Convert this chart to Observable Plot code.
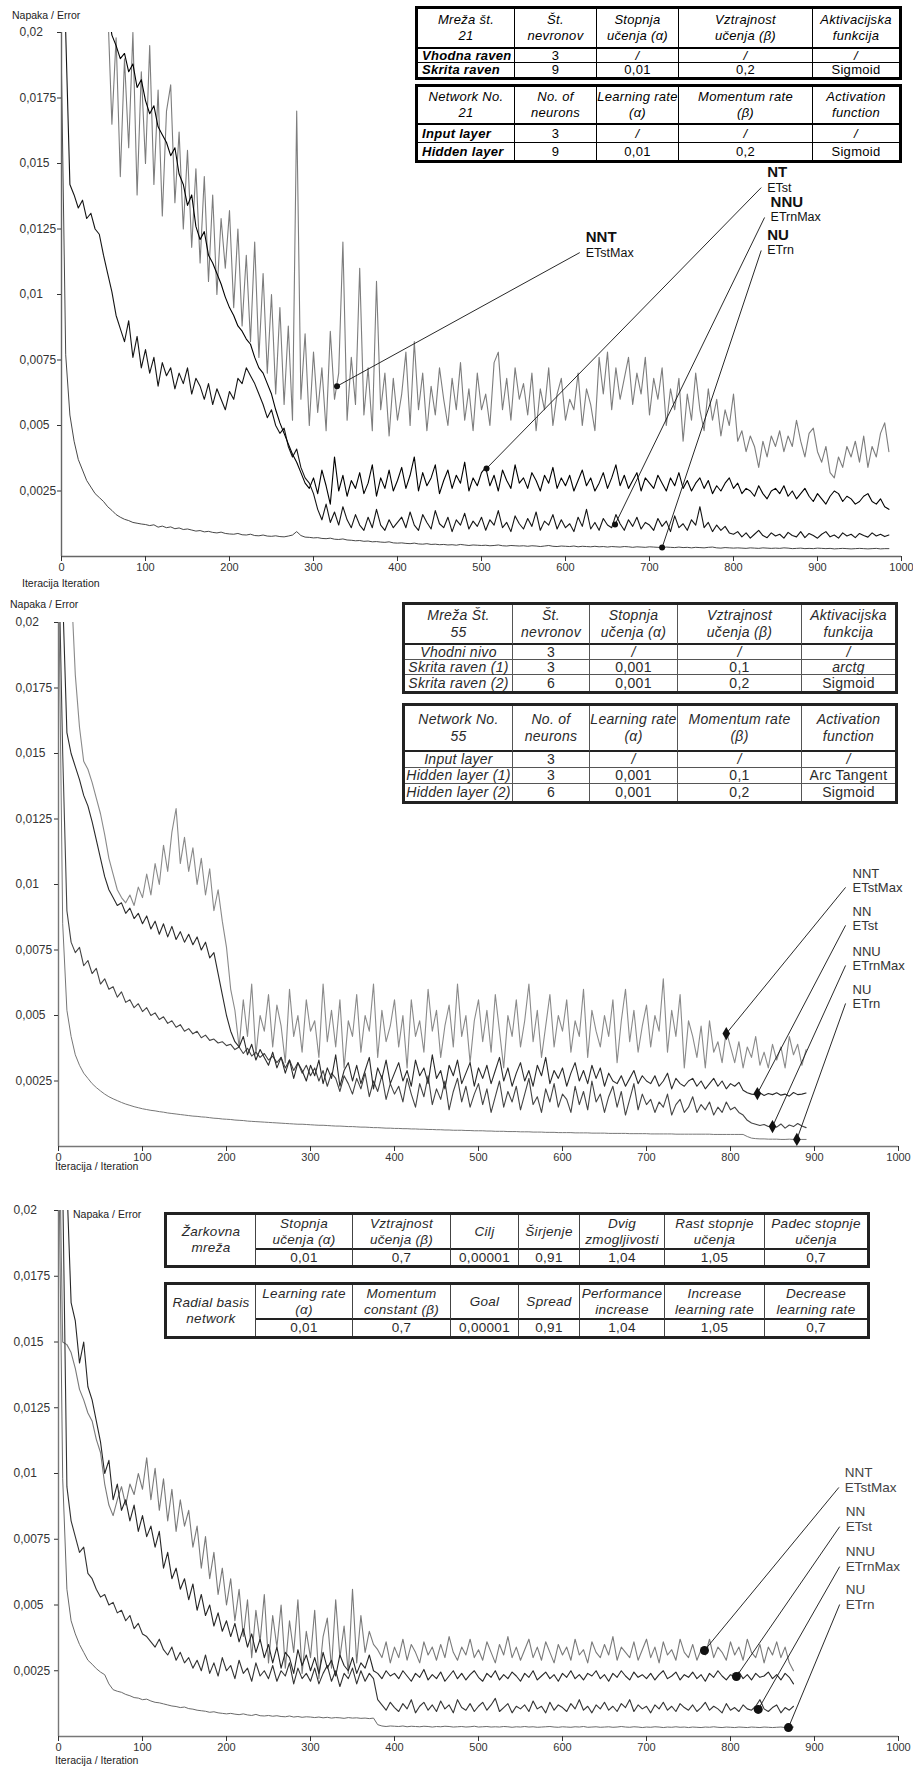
<!DOCTYPE html>
<html><head><meta charset="utf-8">
<script src="https://cdn.jsdelivr.net/npm/d3@7"></script>
<script src="https://cdn.jsdelivr.net/npm/@observablehq/plot@0.6"></script>
<style>
html,body{margin:0;padding:0;background:#fff;}
#root{position:relative;width:913px;height:1767px;overflow:hidden;font-family:'Liberation Sans',Arial,sans-serif;background:#fff;}
.pl{position:absolute;left:0;}
.lbl{position:absolute;white-space:nowrap;color:#222;line-height:1;}
</style></head><body><div id="root"></div>
<script>
// ---- readings: error values in units of 1e-5, one reading every STEP iterations ----
const STEP = 5;
const xTicks = [0,100,200,300,400,500,600,700,800,900,1000];
const yTicks = [0.0025,0.005,0.0075,0.01,0.0125,0.015,0.0175,0.02];

// Panel 1 (network 21)
const p1_NU = [1850,770,540,440,370,330,290,265,240,225,210,190,176,160,150,142,137,130,127,124,122,
118,121,112,116,110,113,106,109,103,105, 101,97,99,94,96,92,90,93,88,86,
85,88,83,82,85,80,79,82,78,77, 79,76,75,78,82,95,80,74,73,71,
72,69,68,70,66,65,67,63,62,60, 61,58,59,56,57,55,54,56,52,51,
52,50,49,51,48,47,49,46,47,45, 46,44,45,43,46,44,42,44,43,42,
43,41,42,44,41,40,42,41,40,41, 39,41,40,38,40,42,39,38,40,39,
38,40,37,39,38,37,39,37,38,36, 38,37,36,38,37,35,37,36,35,37,
36,35,34,36,35,34,36,34,35,33, 35,34,33,35,36,33,32,34,33,32,
33,32,31,33,32,31,33,32,31,32, 31,33,32,30,31,32,30,31,30,32,
31,30,31,29,30,31,30,29,30,31, 30,29,30,31,29,30,30];
const p1_NNU = [2600,2000,1420,1380,1330,1360,1290,1310,1250,1230,1150,1080,1010,920,870,820,900,760,840,720,790,
700,760,650,740,690,720,640,700,660,720, 620,680,650,600,660,580,640,600,560,630,
600,680,660,720,690,660,620,580,530,560, 500,470,490,420,380,410,340,300,280,240,
180,140,200,130,170,120,190,140,110,160, 120,100,150,110,180,120,100,140,110,130,
150,110,170,120,100,160,130,105,175,125, 110,150,95,140,120,165,105,135,115,150,
100,140,120,175,110,130,95,155,125,105, 145,115,170,100,135,120,160,105,140,110,
125,95,150,115,180,105,130,100,145,120, 110,160,125,100,140,115,150,105,130,120,
100,145,115,135,95,155,110,125,100,140, 120,190,110,130,95,120,100,115,90,85,
95,75,90,70,85,100,80,72,90,78, 85,70,92,80,75,95,72,88,80,70,
85,95,75,82,70,90,78,85,72,88, 80,74,90,78,85,76,82];
const p1_NT = [null,null,null,null,null,null,null,null,null,null,null,2100,
1990,1950,1900,1920,1850,1880,1790,1820,1740,
1690,1720,1640,1610,1580,1530,1560,1460,1420,1340, 1380,1260,1210,1240,1150,1120,1080,1040,990,950,
920,880,860,830,810,760,720,700,660,620, 560,510,470,430,390,360,320,280,260,300,
240,330,270,200,380,250,310,230,290,260, 320,240,280,350,230,300,260,330,250,290,
340,260,310,380,250,320,270,300,350,240, 290,330,260,310,280,360,250,300,270,320,
340,270,310,250,330,290,260,350,280,300, 260,320,290,250,310,280,340,260,300,270,
310,250,290,330,270,300,250,280,320,260, 300,350,270,310,260,290,320,250,300,280,
260,310,280,250,300,270,320,260,290,250, 280,300,260,290,240,270,250,280,300,260,
280,240,260,250,230,270,240,220,250,260, 240,270,230,250,220,240,260,230,210,240,
220,200,230,250,240,210,230,220,200,210, 230,240,210,200,220,190,180];
const p1_NNT = [null,null,null,null,null,null,null,null,null,null,null,
2100,1650,1980,1450,1900,1560,2000,1380,1850,1500,
1950,1420,1780,1300,1700,1800,1350,1620,1250,1550, 1180,1480,1120,1450,1050,1380,1000,1290,1100,1320,
950,1250,880,1150,820,1200,760,1080,700,1000, 620,950,580,880,520,1700,600,850,500,780,
550,720,480,860,600,700,1200,520,760,580, 1100,540,720,480,1050,560,700,460,680,520,
620,780,500,820,560,700,480,650,540,720, 600,500,680,560,740,520,640,480,700,560,
620,500,740,780,560,680,520,720,600,660, 540,700,480,640,560,720,500,620,680,520,
600,560,700,500,640,580,480,760,620,780, 560,720,600,680,760,580,700,620,760,540,
680,600,720,500,640,560,680,440,620,520, 700,560,480,640,520,600,460,560,500,620,
440,480,400,460,420,340,440,380,460,420, 480,400,460,420,520,440,380,470,490,400,
360,420,320,300,380,340,420,380,440,360, 460,340,420,380,470,510,400];

// Panel 2 (network 55)
const p2_NU = [2200,850,520,420,350,310,280,260,240,225,212,200,190,182,175,168,162,157,152,148,144,
141,138,136,133,131,128,126,124,122,120, 118,116,115,113,112,110,108,107,105,104,
103,101,100,99,97,96,95,94,93,92, 91,90,89,88,87,86,85,85,84,83,
82,81,81,80,79,78,78,77,76,76, 75,74,74,73,72,72,71,70,70,69,
69,68,68,67,67,66,66,65,65,64, 64,63,63,62,62,62,61,61,60,60,
60,59,59,58,58,58,57,57,57,56, 56,56,55,55,55,54,54,54,53,53,
53,53,52,52,52,52,51,51,51,51, 50,50,50,50,50,49,49,49,49,49,
48,48,48,48,48,48,47,47,47,47, 47,47,47,47,47,46,46,46,46,46,
46,46,46,38,32,30,29,29,28,28, 28,27,27,28,27,27,27,27];
const p2_NNU = [2300,1500,900,780,740,760,690,710,660,680,620,640,600,610,570,590,550,560,530,545,515,
530,500,510,485,495,470,480,455,465,440, 450,430,440,415,425,405,410,395,400,385,
390,370,380,355,375,345,360,340,355,330, 345,320,340,300,330,290,320,280,310,270,
300,250,290,230,280,260,210,270,240,200, 260,220,280,190,250,210,270,180,240,200,
230,170,260,200,150,240,190,270,160,220, 180,250,140,210,260,170,230,150,200,240,
160,220,130,190,250,150,210,170,230,140, 200,260,160,190,130,220,170,240,150,200,
180,130,230,160,210,140,250,170,200,130, 190,230,150,210,120,180,240,140,200,160,
180,130,170,150,200,120,160,180,130,150, 190,130,160,140,170,120,150,130,170,140,
150,130,120,100,90,85,80,84,76,80, 74,86,70,82,76,88,78,72];
const p2_NN = [2400,2100,1580,1500,1450,1400,1340,1300,1240,1170,1100,1030,980,950,920,930,890,910,870,890,850,
880,830,860,810,850,800,840,790,820,780, 810,770,800,750,780,720,740,660,580,500,
440,400,380,420,350,390,330,370,340,310, 360,300,340,280,330,260,320,290,250,310,
270,330,240,300,260,350,230,290,320,250, 310,240,290,340,220,300,260,330,240,280,
320,250,290,230,330,270,300,240,350,260, 290,220,310,270,330,240,280,320,230,300,
260,310,240,290,340,250,300,230,280,320, 250,290,230,310,270,340,240,290,260,300,
230,280,320,250,290,240,310,260,300,230, 280,250,240,270,230,260,290,240,270,250,
240,270,230,250,280,220,260,240,230,250, 260,230,250,220,240,260,230,250,220,240,
230,245,215,205,200,198,205,195,202,198, 205,196,200,192,206,198,200,204];
const p2_NNT = [null,null,2600,2150,1800,1600,1470,1440,1390,1330,1270,1190,1100,1040,980,950,930,960,920,990,950,
1040,960,1080,1000,1150,1050,1200,1290,1080,1180, 1050,1140,1000,1100,960,1060,900,980,860,760,
600,520,380,560,420,620,350,500,440,580, 380,540,460,320,600,420,500,360,560,440,
480,340,620,400,520,380,560,300,480,420, 580,360,500,440,620,340,520,400,460,560,
380,500,300,560,420,480,360,600,440,520, 340,460,540,380,620,420,500,320,480,560,
400,520,360,580,440,300,500,420,560,380, 480,620,400,520,340,460,580,380,500,440,
560,360,480,420,600,340,520,440,380,500, 420,560,320,480,600,400,520,360,460,540,
380,500,440,640,360,520,420,580,300,480, 420,340,460,300,480,360,400,320,440,380,
320,400,300,380,340,420,310,360,300,390, 330,380,300,420,350,390,310,370];

// Panel 3 (radial basis network)
const p3_NU = [2300,980,560,440,390,350,320,290,275,258,245,235,200,178,172,168,160,155,148,146,140,
142,135,130,128,124,120,116,114,110,112, 106,104,100,98,96,92,94,90,88,86,
88,85,83,86,82,80,84,79,78,80, 77,79,76,75,78,74,76,73,75,74,
72,74,71,73,70,72,71,69,72,70, 71,69,70,68,70,45,40,38,40,39,
38,40,37,39,38,37,39,38,36,38, 37,39,38,36,37,38,36,37,39,36,
37,38,36,37,36,38,37,35,37,36, 38,36,37,35,36,37,38,36,35,37,
36,35,37,36,38,35,36,37,35,36, 37,35,36,38,36,35,37,36,34,36,
35,37,36,34,36,35,37,35,36,34, 36,35,34,36,35,37,35,34,36,35,
34,36,35,34,36,35,34,36,35,34, 35,36,34,35,36];
const p3_NNU = [2400,2100,950,820,760,700,720,620,600,560,530,540,500,510,470,480,440,460,410,430,390,
380,360,340,370,330,310,340,290,320,280, 300,260,290,250,310,240,280,230,300,250,
270,220,290,240,260,210,280,230,250,220, 270,210,250,230,280,200,260,220,240,210,
260,200,240,270,210,250,190,240,220,260, 200,250,210,240,220,140,120,100,130,110,
95,125,105,140,90,115,130,100,120,95, 135,105,120,90,140,110,100,125,95,115,
130,100,120,145,95,110,125,90,115,105, 120,95,135,105,115,90,130,100,120,110,
95,125,105,140,100,115,90,120,105,130, 100,115,95,125,110,140,95,120,105,115,
90,120,105,130,100,115,95,125,110,100, 120,95,110,130,100,115,105,90,125,100,
110,95,120,105,100,115,140,105,95,110, 120,90,110,100,115];
const p3_NN = [null,2600,2100,1650,1580,1420,1500,1330,1280,1200,1120,1000,1050,900,960,860,900,820,880,780,840,
760,800,720,780,640,700,600,640,560,600, 520,580,480,540,460,500,420,470,400,440,
380,430,360,410,340,390,320,370,300,350, 280,340,260,320,300,240,330,270,310,250,
300,240,320,260,290,230,310,270,250,300, 240,280,260,310,250,240,220,250,230,240,
220,250,230,210,240,225,255,215,235,220, 245,210,230,250,220,240,215,235,250,225,
210,240,225,250,215,235,220,245,230,210, 240,225,250,215,230,245,220,235,210,240,
225,250,220,235,215,240,230,250,220,235, 210,240,225,250,230,215,245,225,235,220,
240,215,235,250,220,230,245,215,235,225, 245,220,235,210,240,225,250,230,215,235,
228,245,220,235,215,240,225,230,245,220, 235,215,240,225,200];
const p3_NNT = [2500,1500,1490,1460,1400,1320,1280,1230,1200,1130,1080,960,880,840,900,950,880,960,920,1000,940,
1060,900,1020,860,980,820,940,780,900,800, 860,720,800,640,760,600,700,540,640,500,
600,440,560,380,520,300,480,360,540,280, 460,340,500,260,440,320,520,240,400,300,
480,220,380,450,260,520,300,420,240,560, 280,460,320,400,350,330,300,360,280,340,
300,370,290,350,320,280,360,310,340,290, 350,300,380,320,290,340,310,370,300,330,
290,360,320,280,350,310,380,300,340,290, 330,370,300,340,290,360,320,280,350,310,
340,290,370,310,330,280,360,320,300,350, 310,380,290,340,320,300,360,290,330,370,
300,340,280,360,310,330,290,370,320,300, 350,290,330,310,370,300,340,320,290,360,
310,340,290,370,320,300,350,280,340,310, 360,300,340,280,250];

// annotation readings (iteration, error) : marked point and leader-line end
const p1Notes = [
  {name:"NNT", sub:"ETstMax", ax:328, ay:0.0065,  lx:617, ly:0.0116},
  {name:"NT",  sub:"ETst",    ax:506, ay:0.00336, lx:833, ly:0.01408},
  {name:"NNU", sub:"ETrnMax", ax:659, ay:0.00122, lx:837, ly:0.01294},
  {name:"NU",  sub:"ETrn",    ax:715, ay:0.00034, lx:833, ly:0.01168}];
const p2Notes = [
  {name:"NNT", sub:"ETstMax", ax:795, ay:0.00431, lx:937, ly:0.00989},
  {name:"NN",  sub:"ETst",    ax:832, ay:0.00202, lx:937, ly:0.00844},
  {name:"NNU", sub:"ETrnMax", ax:850, ay:0.00076, lx:937, ly:0.00691},
  {name:"NU",  sub:"ETrn",    ax:879, ay:0.00027, lx:937, ly:0.00546}];
const p3Notes = [
  {name:"NNT", sub:"ETstMax", ax:769, ay:0.00327, lx:929, ly:0.00947},
  {name:"NN",  sub:"ETst",    ax:807, ay:0.00228, lx:930, ly:0.00798},
  {name:"NNU", sub:"ETrnMax", ax:833, ay:0.00103, lx:930, ly:0.00646},
  {name:"NU",  sub:"ETrn",    ax:869, ay:0.00034, lx:930, ly:0.00502}];

// table texts
const t1aHead = ["Mreža št.\n21","Št.\nnevronov","Stopnja\nučenja (α)","Vztrajnost\nučenja (β)","Aktivacijska\nfunkcija"];
const t1aRows = [["Vhodna raven","3","/","/","/"],["Skrita raven","9","0,01","0,2","Sigmoid"]];
const t1bHead = ["Network No.\n21","No. of\nneurons","Learning rate\n(α)","Momentum rate\n(β)","Activation\nfunction"];
const t1bRows = [["Input layer","3","/","/","/"],["Hidden layer","9","0,01","0,2","Sigmoid"]];
const t2aHead = ["Mreža Št.\n55","Št.\nnevronov","Stopnja\nučenja (α)","Vztrajnost\nučenja (β)","Aktivacijska\nfunkcija"];
const t2aRows = [["Vhodni nivo","3","/","/","/"],["Skrita raven (1)","3","0,001","0,1","arctg"],["Skrita raven (2)","6","0,001","0,2","Sigmoid"]];
const t2bHead = ["Network No.\n55","No. of\nneurons","Learning rate\n(α)","Momentum rate\n(β)","Activation\nfunction"];
const t2bRows = [["Input layer","3","/","/","/"],["Hidden layer (1)","3","0,001","0,1","Arc Tangent"],["Hidden layer (2)","6","0,001","0,2","Sigmoid"]];
const t3aName = "Žarkovna\nmreža";
const t3aHead = ["Stopnja\nučenja (α)","Vztrajnost\nučenja (β)","Cilj","Širjenje","Dvig\nzmogljivosti","Rast stopnje\nučenja","Padec stopnje\nučenja"];
const t3bName = "Radial basis\nnetwork";
const t3bHead = ["Learning rate\n(α)","Momentum\nconstant (β)","Goal","Spread","Performance\nincrease","Increase\nlearning rate","Decrease\nlearning rate"];
const t3Values = ["0,01","0,7","0,00001","0,91","1,04","1,05","0,7"];

// ---------------- drawing ----------------
const root = document.getElementById("root");
const fmtY = d => String(d).replace(".", ",");

function drawPanel(c) {
  const marks = [];
  for (const s of c.series) {
    const rows = s.values.map((v, i) => ({x: i * STEP, y: v == null ? NaN : v / 1e5}));
    marks.push(Plot.line(rows, {x: "x", y: "y", stroke: s.color, strokeWidth: s.width, clip: true}));
  }
  marks.push(Plot.ruleX([0], {stroke: c.axisColor, strokeWidth: 1.4}));
  marks.push(Plot.ruleY([0], {stroke: c.axisColor, strokeWidth: 1.4}));
  marks.push(Plot.axisX({ticks: xTicks, tickSize: 5, tickPadding: 2, label: null, fontSize: 11, color: "#333", tickFormat: d => String(d)}));
  // tick marks only
  marks.push(Plot.axisY({ticks: yTicks, tickSize: 4, label: null, color: "#333", tickFormat: () => ""}));
  // left-aligned tick labels
  marks.push(Plot.axisY({ticks: yTicks, tickSize: 0, tickPadding: 0, label: null, fontSize: 12, color: "#333",
    tickFormat: fmtY, textAnchor: "start", dx: c.yDx}));
  marks.push(Plot.link(c.notes, {x1: "ax", y1: "ay", x2: "lx", y2: "ly", stroke: "#111", strokeWidth: 0.9}));
  marks.push(Plot.dot(c.notes, {x: "ax", y: "ay", r: c.r, symbol: c.symbol, fill: "#111", stroke: "none"}));
  marks.push(Plot.text(c.notes, {x: "lx", y: "ly", text: "name", textAnchor: "start", dx: c.ndx, dy: c.ndy,
    fontSize: c.nameSize, fontWeight: c.nameWeight, fill: c.noteColor}));
  marks.push(Plot.text(c.notes, {x: "lx", y: "ly", text: "sub", textAnchor: "start", dx: c.ndx, dy: 0,
    fontSize: c.subSize, fill: c.noteColor}));
  const svg = Plot.plot({
    width: 913, height: c.height,
    marginLeft: c.ml, marginRight: c.mr, marginTop: c.mt, marginBottom: c.mb,
    x: {domain: [0, 1000]}, y: {domain: [0, 0.02]},
    style: {fontFamily: "'Liberation Sans', Arial, sans-serif", background: "transparent", overflow: "visible"},
    marks
  });
  const holder = document.createElement("div");
  holder.className = "pl";
  holder.style.top = c.top + "px";
  holder.appendChild(svg);
  root.appendChild(holder);
}

function label(text, left, cy, size, color) {
  const d = document.createElement("div");
  d.className = "lbl";
  d.textContent = text;
  d.style.left = left + "px";
  d.style.top = (cy - size / 2) + "px";
  d.style.fontSize = size + "px";
  if (color) d.style.color = color;
  root.appendChild(d);
}

function drawTable(t) {
  const W = t.cols.reduce((a, b) => a + b, 0), H = t.rows.reduce((a, b) => a + b, 0);
  const box = document.createElement("div");
  Object.assign(box.style, {position: "absolute", left: t.left + "px", top: t.top + "px",
    width: (W + 2 * t.outer) + "px", height: (H + 2 * t.outer) + "px", boxSizing: "border-box",
    border: t.outer + "px solid " + t.outerColor, background: "#fff", zIndex: 5});
  const cx = [0]; t.cols.forEach(w => cx.push(cx[cx.length - 1] + w));
  const ry = [0]; t.rows.forEach(h => ry.push(ry[ry.length - 1] + h));
  for (const cell of t.cells) {
    const rs = cell.rs || 1, cs = cell.cs || 1;
    const d = document.createElement("div");
    const bottomW = (cell.r + rs < t.rows.length) ? (cell.r + rs === 1 ? t.headLine : t.inner) : 0;
    const rightW = (cell.c + cs < t.cols.length) ? t.inner : 0;
    Object.assign(d.style, {position: "absolute", left: cx[cell.c] + "px", top: ry[cell.r] + "px",
      width: (cx[cell.c + cs] - cx[cell.c]) + "px", height: (ry[cell.r + rs] - ry[cell.r]) + "px",
      boxSizing: "border-box", borderRight: rightW + "px solid " + t.lineColor,
      borderBottom: bottomW + "px solid " + (cell.r + rs === 1 ? t.outerColor : t.lineColor),
      display: "flex", alignItems: "center", justifyContent: cell.align === "left" ? "flex-start" : "center",
      paddingLeft: cell.align === "left" ? "4px" : "0", textAlign: cell.align === "left" ? "left" : "center",
      whiteSpace: "pre", fontSize: t.fontSize + "px", lineHeight: t.lineHeight + "px", color: t.color,
      fontStyle: cell.italic ? "italic" : "normal", fontWeight: cell.bold ? "bold" : "normal",
      letterSpacing: "0.3px", overflow: "visible"});
    d.textContent = cell.text;
    box.appendChild(d);
  }
  root.appendChild(box);
}

function gridCells(head, rows, firstBold, firstAlign) {
  const cells = head.map((text, c) => ({r: 0, c, text, italic: true}));
  rows.forEach((row, i) => row.forEach((text, c) => cells.push({r: i + 1, c, text,
    italic: c === 0 || text === "/" || text === "arctg", bold: c === 0 && firstBold,
    align: c === 0 ? firstAlign : "center"})));
  return cells;
}
function rbfCells(name, head, values) {
  const cells = [{r: 0, c: 0, rs: 2, text: name, italic: true}];
  head.forEach((text, i) => cells.push({r: 0, c: i + 1, text, italic: true}));
  values.forEach((text, i) => cells.push({r: 1, c: i + 1, text}));
  return cells;
}

// Panel 1
drawPanel({top: 0, height: 595, ml: 61, mr: 12, mt: 32, mb: 39, yDx: -42, axisColor: "#666",
  series: [
    {values: p1_NNT, color: "#7d7d7d", width: 1.1},
    {values: p1_NU, color: "#333", width: 0.9},
    {values: p1_NNU, color: "#151515", width: 1.1},
    {values: p1_NT, color: "#000", width: 1.1}],
  notes: p1Notes, r: 3, symbol: "circle", ndx: 6, ndy: -15, nameSize: 15, nameWeight: "bold", subSize: 12.5, noteColor: "#111"});
label("Napaka / Error", 12, 15, 10.5);
label("Iteracija Iteration", 22, 583, 10.5);
const t1Base = {left: 415, cols: [97,82,82,134,86], outer: 3, inner: 1, headLine: 2, outerColor: "#000", lineColor: "#000",
  fontSize: 13, lineHeight: 16, color: "#000"};
drawTable({...t1Base, top: 6, rows: [40,14,14], cells: gridCells(t1aHead, t1aRows, true, "left")});
drawTable({...t1Base, top: 84, rows: [38,18,17], cells: gridCells(t1bHead, t1bRows, true, "left")});

// Panel 2
drawPanel({top: 595, height: 585, ml: 58, mr: 15, mt: 27, mb: 34, yDx: -43, axisColor: "#777",
  series: [
    {values: p2_NNT, color: "#8a8a8a", width: 1.1},
    {values: p2_NU, color: "#777", width: 1},
    {values: p2_NNU, color: "#444", width: 1.1},
    {values: p2_NN, color: "#2a2a2a", width: 1.1}],
  notes: p2Notes, r: 4, symbol: "diamond", ndx: 7, ndy: -14, nameSize: 13, nameWeight: "normal", subSize: 13, noteColor: "#333"});
label("Napaka / Error", 10, 604, 10.5);
label("Iteracija / Iteration", 55, 1166, 10.5);
const t2Base = {left: 402, cols: [108,77,88,124,93], outer: 3, inner: 1, headLine: 2, outerColor: "#222", lineColor: "#555",
  fontSize: 14, lineHeight: 17, color: "#2a2a2a"};
drawTable({...t2Base, top: 602, rows: [40,15,15,16], cells: gridCells(t2aHead, t2aRows, false, "center")});
drawTable({...t2Base, top: 703, rows: [46,16,16,17], cells: gridCells(t2bHead, t2bRows, false, "center")});

// Panel 3
drawPanel({top: 1180, height: 587, ml: 58, mr: 15, mt: 30, mb: 31, yDx: -45, axisColor: "#777",
  series: [
    {values: p3_NNT, color: "#7a7a7a", width: 1.1},
    {values: p3_NU, color: "#6a6a6a", width: 1},
    {values: p3_NNU, color: "#333", width: 1.1},
    {values: p3_NN, color: "#262626", width: 1.1}],
  notes: p3Notes, r: 4.5, symbol: "circle", ndx: 6, ndy: -15, nameSize: 13.5, nameWeight: "normal", subSize: 13.5, noteColor: "#444"});
label("Napaka / Error", 73, 1214, 10.5);
label("Iteracija / Iteration", 55, 1760, 10.5);
const t3Base = {left: 164, cols: [89,97,98,68,61,85,100,102], outer: 3, inner: 1, headLine: 2, outerColor: "#222", lineColor: "#444",
  fontSize: 13.5, lineHeight: 16, color: "#2a2a2a"};
drawTable({...t3Base, top: 1212, rows: [35,15], cells: rbfCells(t3aName, t3aHead, t3Values)});
drawTable({...t3Base, top: 1282, rows: [35,16], cells: rbfCells(t3bName, t3bHead, t3Values)});
</script></body></html>
